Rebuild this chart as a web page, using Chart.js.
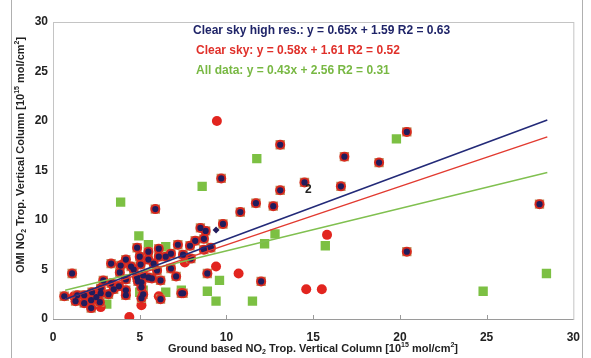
<!DOCTYPE html>
<html lang="en">
<head>
  <meta charset="UTF-8">
  <title>OMI vs ground based NO2</title>
  <script src="https://cdn.jsdelivr.net/npm/chart.js"></script>
  <style>
    body { margin: 0; background: #fff; }
  </style>
</head>
<body>
<canvas id="no2Chart" width="591" height="358"></canvas>

<script>
  // regression lines (end points)
  const fitX = [0.7, 28.5];
  const fitHighRes = [2.0, 20.1];
  const fitClearSky = [2.0, 18.4];
  const fitAllData = [2.9, 14.8];

  // green squares that are only in "all data"
  const allDataPts = [
    [3.9, 11.8], [8.6, 13.4], [11.75, 16.2], [19.8, 18.2], [28.45, 4.6], [24.8, 2.8],
    [12.8, 8.6], [12.2, 7.6], [15.7, 7.4], [4.95, 8.4], [5.5, 7.5], [6.5, 7.3],
    [9.6, 3.9], [8.9, 2.8], [9.4, 1.8], [11.5, 1.8], [6.5, 2.7], [5.2, 2.9],
    [7.4, 2.9], [3.1, 1.5], [5.0, 2.7]
  ];

  // red circles (clear sky, no high res. value)
  const clearSkyPts = [
    [9.45, 20.0], [15.8, 8.5], [14.6, 3.0], [15.5, 3.0], [9.4, 5.3], [10.7, 4.6],
    [4.4, 0.2], [6.1, 2.3], [5.1, 1.4], [2.75, 1.2], [7.6, 5.7], [4.0, 5.5], [1.2, 2.3]
  ];

  // points that are in all three sets
  const highResPts = [
    [13.1, 17.6], [16.8, 16.4], [20.4, 18.9], [18.8, 15.8], [9.7, 14.2], [14.5, 13.8],
    [13.1, 13.0], [16.6, 13.4], [5.9, 11.1], [11.7, 11.7], [12.7, 11.4], [10.8, 10.8],
    [9.8, 9.6], [8.5, 9.2], [8.8, 8.9], [8.7, 8.1], [8.2, 7.9], [7.9, 7.4], [7.2, 7.5],
    [28.05, 11.6], [20.4, 6.8], [12.0, 3.8], [8.9, 4.6], [7.4, 2.6], [1.1, 4.6],
    [6.8, 6.6], [6.1, 7.1], [5.5, 6.8], [4.85, 7.2], [5.0, 6.3], [5.5, 6.0], [6.1, 6.3],
    [5.05, 5.5], [4.65, 5.0], [4.5, 5.3], [4.2, 6.0], [3.35, 5.6], [3.9, 5.4], [3.85, 4.7],
    [4.2, 4.0], [4.85, 4.2], [5.2, 4.4], [5.5, 4.2], [4.9, 3.8], [5.1, 3.2], [5.2, 2.5],
    [4.2, 2.9], [7.1, 4.3], [6.8, 5.1], [7.5, 2.6], [3.35, 3.6], [2.9, 3.9], [2.75, 2.6],
    [2.2, 1.9], [1.8, 2.4], [1.8, 1.6], [2.2, 1.1], [1.3, 1.8], [1.4, 2.4], [0.65, 2.3],
    [2.75, 3.1], [3.2, 2.5], [2.25, 2.7], [2.5, 2.2], [7.95, 6.1], [7.5, 6.5], [8.7, 7.0],
    [9.1, 7.2], [6.2, 3.9], [5.7, 4.1], [5.1, 3.7], [6.2, 2.0], [5.1, 2.1], [4.2, 2.4],
    [3.8, 3.3], [3.5, 3.0], [2.7, 1.7], [6.5, 6.3], [6.0, 4.9], [5.8, 5.6]
  ];

  // high res. point without clear sky / all data marker
  const highResOnlyPts = [[9.4, 9.0]];

  const xTicks = [0, 5, 10, 15, 20, 25, 30];
  const yTicks = [0, 5, 10, 15, 20, 25, 30];

  const legendLines = [
    { text: 'Clear sky high res.: y = 0.65x + 1.59 R2 = 0.63', color: '#1f2468' },
    { text: 'Clear sky: y = 0.58x + 1.61 R2 = 0.52', color: '#e0302a' },
    { text: 'All data: y = 0.43x + 2.56 R2 = 0.31', color: '#78b843' }
  ];

  const FONT = "'Liberation Sans', Arial, sans-serif";
  const NAVY = '#211c5c';
  const RED = '#e2251f';
  const GREEN = '#7cc043';

  const toXY = pts => pts.map(p => ({ x: p[0], y: p[1] }));
  const fitLine = ys => fitX.map((x, i) => ({ x: x, y: ys[i] }));

  function drawRich(ctx, parts, x, y, size) {
    const small = Math.round(size * 0.62);
    let total = 0;
    parts.forEach(p => {
      ctx.font = 'bold ' + (p.sub || p.sup ? small : size) + 'px ' + FONT;
      p.w = ctx.measureText(p.t).width;
      total += p.w;
    });
    let cx = x - total / 2;
    ctx.textAlign = 'left';
    ctx.textBaseline = 'middle';
    parts.forEach(p => {
      ctx.font = 'bold ' + (p.sub || p.sup ? small : size) + 'px ' + FONT;
      let dy = 0;
      if (p.sub) dy = size * 0.3;
      if (p.sup) dy = -size * 0.35;
      ctx.fillText(p.t, cx, y + dy);
      cx += p.w;
    });
  }

  const decorations = {
    id: 'decorations',
    beforeDatasetsDraw(chart) {
      const ctx = chart.ctx;
      const a = chart.chartArea;
      ctx.save();
      // image frame
      ctx.strokeStyle = '#b0b0b0';
      ctx.lineWidth = 1;
      ctx.beginPath();
      ctx.moveTo(11.5, 0); ctx.lineTo(11.5, 358);
      ctx.moveTo(582.5, 0); ctx.lineTo(582.5, 358);
      ctx.stroke();
      // plot box
      ctx.strokeStyle = '#c4c4c4';
      ctx.strokeRect(a.left + 0.5, a.top + 0.5, a.right - a.left, a.bottom - a.top);
      ctx.strokeStyle = '#9a9a9a';
      ctx.beginPath();
      ctx.moveTo(a.left, a.bottom + 0.5); ctx.lineTo(a.right, a.bottom + 0.5);
      // inward tick marks
      const xs = chart.scales.x;
      xTicks.slice(1, -1).forEach(v => {
        const px = Math.round(xs.getPixelForValue(v)) + 0.5;
        ctx.moveTo(px, a.bottom); ctx.lineTo(px, a.bottom - 4);
      });
      ctx.stroke();
      ctx.restore();
    },
    afterDraw(chart) {
      const ctx = chart.ctx;
      ctx.save();
      ctx.textAlign = 'left';
      ctx.textBaseline = 'middle';
      ctx.font = 'bold 12px ' + FONT;
      legendLines.forEach((l, i) => {
        ctx.fillStyle = l.color;
        ctx.fillText(l.text, 193 + (i > 0 ? 3 : 0), 31 + i * 20);
      });
      // stray label in the plot
      ctx.fillStyle = '#222';
      ctx.font = 'bold 12px ' + FONT;
      ctx.fillText('2', 305, 190);

      ctx.fillStyle = '#222';
      const xTitle = [
        { t: 'Ground based NO' }, { t: '2', sub: true }, { t: ' Trop. Vertical Column [10' },
        { t: '15', sup: true }, { t: ' mol/cm' }, { t: '2', sup: true }, { t: ']' }
      ];
      drawRich(ctx, xTitle, 313, 349, 11);
      const yTitle = [
        { t: 'OMI NO' }, { t: '2', sub: true }, { t: ' Trop. Vertical Column [10' },
        { t: '15', sup: true }, { t: ' mol/cm' }, { t: '2', sup: true }, { t: ']' }
      ];
      ctx.translate(21, 155);
      ctx.rotate(-Math.PI / 2);
      drawRich(ctx, yTitle, 0, 0, 11);
      ctx.restore();
    }
  };

  const ctx = document.getElementById('no2Chart').getContext('2d');

  new Chart(ctx, {
    type: 'scatter',
    data: {
      datasets: [
        { label: 'fit high res', type: 'line', data: fitLine(fitHighRes), borderColor: '#232a78',
          borderWidth: 1.6, pointRadius: 0, fill: false, order: 0 },
        { label: 'fit clear sky', type: 'line', data: fitLine(fitClearSky), borderColor: '#e23a30',
          borderWidth: 1.4, pointRadius: 0, fill: false, order: 0 },
        { label: 'fit all', type: 'line', data: fitLine(fitAllData), borderColor: '#80c050',
          borderWidth: 1.4, pointRadius: 0, fill: false, order: 0 },
        { label: 'high res only', data: toXY(highResOnlyPts), pointStyle: 'rectRot',
          pointRadius: 3.5, backgroundColor: NAVY, borderWidth: 0, order: 1 },
        { label: 'high res dot', data: toXY(highResPts), pointStyle: 'circle',
          pointRadius: 3.1, backgroundColor: NAVY, borderWidth: 0, order: 2 },
        { label: 'high res ring', data: toXY(highResPts), pointStyle: 'circle',
          pointRadius: 5, backgroundColor: '#d8281f', borderWidth: 0, order: 3 },
        { label: 'high res square', data: toXY(highResPts), pointStyle: 'rect',
          pointRadius: 6.6, backgroundColor: '#c0905c', borderWidth: 0, order: 4 },
        { label: 'Clear sky', data: toXY(clearSkyPts), pointStyle: 'circle',
          pointRadius: 5, backgroundColor: RED, borderWidth: 0, order: 5 },
        { label: 'All data', data: toXY(allDataPts), pointStyle: 'rect',
          pointRadius: 6.6, backgroundColor: GREEN, borderWidth: 0, order: 6 }
      ]
    },
    options: {
      responsive: false,
      animation: false,
      layout: { padding: { top: 22, right: 16, left: 0, bottom: 0 } },
      plugins: {
        legend: { display: false },
        tooltip: { enabled: false }
      },
      scales: {
        x: {
          type: 'linear',
          min: 0, max: 30,
          afterBuildTicks: s => { s.ticks = xTicks.map(v => ({ value: v })); },
          afterFit: s => { s.height = 39; },
          grid: { display: false, drawTicks: false },
          border: { display: false },
          ticks: { color: '#222', padding: 11, font: { family: FONT, size: 12, weight: 'bold' } }
        },
        y: {
          min: 0, max: 30,
          afterBuildTicks: s => { s.ticks = yTicks.map(v => ({ value: v })); },
          afterFit: s => { s.width = 53; },
          grid: { display: false, drawTicks: false },
          border: { display: false },
          ticks: { color: '#222', padding: 5, font: { family: FONT, size: 12, weight: 'bold' } }
        }
      }
    },
    plugins: [decorations]
  });
</script>
</body>
</html>
